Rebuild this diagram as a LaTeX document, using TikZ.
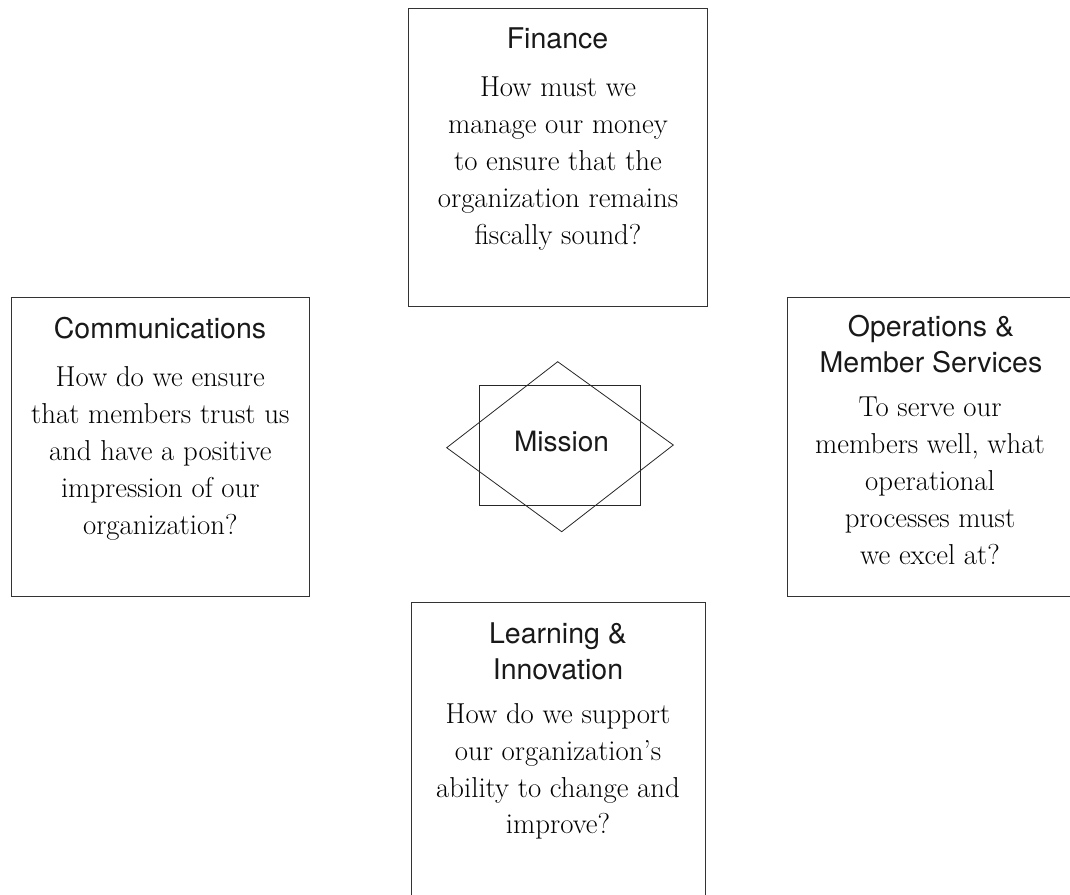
\documentclass[tikz,border=0pt]{standalone}
\usepackage{fontspec}
\newfontfamily\headfont{TeX Gyre Heros}
\begin{document}
\begin{tikzpicture}[x=1pt,y=-1pt,
  box/.style={draw=black!80,line width=0.9pt,rectangle,inner sep=0pt,anchor=north west},
  head/.style={font=\headfont\fontsize{28.5}{36}\selectfont,align=center,inner sep=0pt,anchor=north,text=black!90},
  body/.style={font=\fontsize{28.8}{36.8}\selectfont,align=center,inner sep=0pt,anchor=north},
  mline/.style={draw=black!85,line width=0.8pt}]
\useasboundingbox (0,0) rectangle (1070,894);
\clip (0,0) rectangle (1070,894);
% boxes
\node[box,minimum width=298.4pt,minimum height=297.4pt] (fin) at (408.3,8.3) {};
\node[box,minimum width=298pt,minimum height=298.4pt] (com) at (11,297.3) {};
\node[box,minimum width=298pt,minimum height=298.4pt] (ops) at (787.3,297.3) {};
\node[box,minimum width=294.3pt,minimum height=300pt] (lea) at (410.7,601.7) {};
% Finance
\node[head] (finh) at (557.5,48.3-25.2) {\rule{0pt}{25.2pt}Finance};
\node[body] (finb) at (558,96.7-25.76) {\strut How must we\\manage our money\\to ensure that the\\organization remains\\fiscally sound?};
% Communications
\node[head] (comh) at (160,338.3-25.2) {\rule{0pt}{25.2pt}Communications};
\node[body] (comb) at (160.3,386.7-25.76) {\strut How do we ensure\\that members trust us\\and have a positive\\impression of our\\organization?};
% Operations
\node[head] (opsh) at (931,336.7-25.2) {\rule{0pt}{25.2pt}Operations \&\\Member Services};
\node[body] (opsb) at (930,416.7-25.76) {\strut To serve our\\members well, what\\operational\\processes must\\we excel at?};
% Learning
\node[head] (leah) at (558,643.3-25.2) {\rule{0pt}{25.2pt}Learning \&\\Innovation};
\node[body] (leab) at (558,723.3-25.76) {\strut How do we support\\our organization’s\\ability to change and\\improve?};
% Mission
\node[draw=black!85,line width=0.9pt,rectangle,minimum width=160.7pt,minimum height=120.7pt,inner sep=0pt] (mis) at (559.7,445.3) {};
\node[font=\headfont\fontsize{28}{33}\selectfont,anchor=base,inner sep=0pt,text=black!90] (mist) at (561.5,451.7) {Mission};
\coordinate (dt) at (557.7,361.7);
\coordinate (dr) at (673.3,445);
\coordinate (db) at (561.7,531.7);
\coordinate (dl) at (446.7,447.7);
\draw[mline,line join=miter] (dt) -- (dr) -- (db) -- (dl) -- cycle;
\end{tikzpicture}
\end{document}
